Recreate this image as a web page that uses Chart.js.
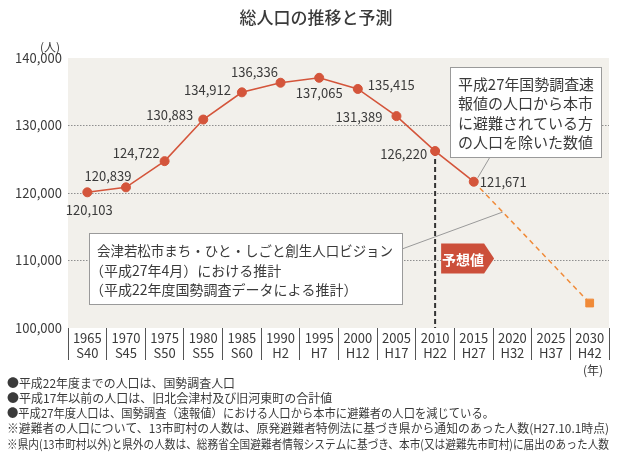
<!DOCTYPE html>
<html>
<head>
  <meta charset="utf-8">
  <title>総人口の推移と予測</title>
  <script src="https://cdn.jsdelivr.net/npm/chart.js"></script>
  <style>
    html, body { margin: 0; padding: 0; background: #fff; }
    #wrap { width: 619px; height: 459px; }
  </style>
</head>
<body>
  <div id="wrap">
    <canvas id="popChart" width="619" height="459"></canvas>
  </div>

  <script>
    // data
    const years = ["1965", "1970", "1975", "1980", "1985", "1990", "1995", "2000", "2005", "2010", "2015", "2020", "2025", "2030"];
    const eras = ["S40", "S45", "S50", "S55", "S60", "H2", "H7", "H12", "H17", "H22", "H27", "H32", "H37", "H42"];
    const actual = [120103, 120839, 124722, 130883, 134912, 136336, 137065, 135415, 131389, 126220, 121671, null, null, null];
    const forecast = [null, null, null, null, null, null, null, null, null, null, 121671, null, null, 103700];
    const yTicks = [100000, 110000, 120000, 130000, 140000];

    const title = "総人口の推移と予測";
    const note1 = ["平成27年国勢調査速", "報値の人口から本市", "に避難されている方", "の人口を除いた数値"];
    const note2 = ["会津若松市まち・ひと・しごと創生人口ビジョン", "（平成27年4月）における推計", "（平成22年度国勢調査データによる推計）"];
    const badgeText = "予想値";
    const footnotes = [
      "●平成22年度までの人口は、国勢調査人口",
      "●平成17年以前の人口は、旧北会津村及び旧河東町の合計値",
      "●平成27年度人口は、国勢調査（速報値）における人口から本市に避難者の人口を減じている。",
      "※避難者の人口について、13市町村の人数は、原発避難者特例法に基づき県から通知のあった人数(H27.10.1時点)",
      "※県内(13市町村以外)と県外の人数は、総務省全国避難者情報システムに基づき、本市(又は避難先市町村)に届出のあった人数"
    ];

    // where each value label sits relative to its point
    const labelPos = [
      [2, 18, "center"], [-18, -11, "center"], [-5, -8, "right"], [-10, -4, "right"],
      [-11, -2, "right"], [-26, -11, "center"], [0, 15, "center"], [10, -4, "left"],
      [-14, 1, "right"], [-8, 3, "right"], [6, 0, "left"]
    ];

    const FONT = "'Noto Sans CJK JP', 'Noto Sans', sans-serif";
    const TEXT = "#3a3a3a";
    const RED = "#d4553b";
    const ORANGE = "#f08a38";

    const fmt = v => v.toLocaleString("en-US");

    const bgPlugin = {
      id: "bg",
      beforeDraw(chart) {
        const { ctx, chartArea: a } = chart;
        ctx.save();
        ctx.fillStyle = "#f2f0eb";
        ctx.fillRect(a.left, a.top, a.right - a.left, a.bottom - a.top);
        ctx.restore();
      },
      beforeDatasetsDraw(chart) {
        // dashed marker under 2010
        const { ctx, chartArea: a, scales } = chart;
        const x = scales.x.getPixelForValue(9);
        const y = scales.y.getPixelForValue(actual[9]);
        ctx.save();
        ctx.strokeStyle = "#333";
        ctx.lineWidth = 2;
        ctx.setLineDash([5, 3]);
        ctx.beginPath();
        ctx.moveTo(x, y);
        ctx.lineTo(x, a.bottom);
        ctx.stroke();
        ctx.restore();
      }
    };

    function box(ctx, x, y, w, h) {
      ctx.fillStyle = "#fff";
      ctx.fillRect(x, y, w, h);
      ctx.strokeStyle = "#9a9a9a";
      ctx.lineWidth = 1;
      ctx.strokeRect(x + 0.5, y + 0.5, w, h);
    }

    const textPlugin = {
      id: "texts",
      afterDatasetsDraw(chart) {
        const { ctx, scales } = chart;
        const xs = scales.x, ys = scales.y;
        ctx.save();

        // value labels
        ctx.font = "13px " + FONT;
        ctx.fillStyle = TEXT;
        ctx.textBaseline = "middle";
        labelPos.forEach((p, i) => {
          const px = xs.getPixelForValue(i), py = ys.getPixelForValue(actual[i]);
          ctx.textAlign = p[2];
          ctx.fillText(fmt(actual[i]), px + p[0], py + p[1]);
        });

        // callout 1 -> 2015 point
        const p15x = xs.getPixelForValue(10), p15y = ys.getPixelForValue(actual[10]);
        ctx.strokeStyle = "#9a9a9a";
        ctx.lineWidth = 1;
        ctx.beginPath();
        ctx.moveTo(490, 157);
        ctx.lineTo(p15x + 4, p15y - 4);
        ctx.stroke();
        box(ctx, 450, 67, 151, 90);
        ctx.font = "15px " + FONT;
        ctx.fillStyle = TEXT;
        ctx.textAlign = "left";
        note1.forEach((t, i) => ctx.fillText(t, 458, 84 + i * 19.5, 136));

        // callout 2 -> forecast line
        const mx = xs.getPixelForValue(10) + (xs.getPixelForValue(11) - xs.getPixelForValue(10)) * 0.75;
        const my = ys.getPixelForValue(forecast[10]) + (ys.getPixelForValue(forecast[13]) - ys.getPixelForValue(forecast[10])) * 0.25;
        ctx.beginPath();
        ctx.moveTo(402, 249);
        ctx.lineTo(mx, my);
        ctx.stroke();
        box(ctx, 89, 233, 313, 71);
        ctx.font = "14px " + FONT;
        ctx.fillStyle = TEXT;
        ctx.fillText(note2[0], 97, 251, 296);
        ctx.fillText(note2[1], 90, 271);
        ctx.fillText(note2[2], 90, 290);

        // forecast badge
        const bx = xs.getPixelForValue(9) + 6, by = ys.getPixelForValue(110000) - 17;
        ctx.fillStyle = "#cc4f3a";
        ctx.beginPath();
        ctx.moveTo(bx, by);
        ctx.lineTo(bx + 43, by);
        ctx.lineTo(bx + 53, by + 15);
        ctx.lineTo(bx + 43, by + 30);
        ctx.lineTo(bx, by + 30);
        ctx.closePath();
        ctx.fill();
        ctx.fillStyle = "#fff";
        ctx.font = "bold 14px " + FONT;
        ctx.textAlign = "center";
        ctx.fillText(badgeText, bx + 22, by + 16);

        // titles and footnotes
        ctx.fillStyle = TEXT;
        ctx.font = "500 17px " + FONT;
        ctx.fillText(title, 316, 18);
        ctx.font = "12px " + FONT;
        ctx.fillText("(人)", 50, 47);
        ctx.fillText("(年)", 593, 370);
        ctx.textAlign = "left";
        const fw = [228, 334, 487, 602, 602];
        footnotes.forEach((t, i) => ctx.fillText(t, 7, 383 + i * 15.3, fw[i]));
        ctx.restore();
      }
    };

    new Chart(document.getElementById("popChart"), {
      type: "line",
      data: {
        labels: years.map((y, i) => [y, eras[i]]),
        datasets: [
          {
            label: "総人口",
            data: actual,
            borderColor: RED,
            backgroundColor: RED,
            borderWidth: 1.6,
            pointRadius: 4.5,
            pointBorderWidth: 1,
            tension: 0
          },
          {
            label: "推計",
            data: forecast,
            spanGaps: true,
            borderColor: ORANGE,
            backgroundColor: ORANGE,
            borderWidth: 1.5,
            borderDash: [5, 4],
            pointStyle: "rect",
            pointRadius: forecast.map((v, i) => i === 13 ? 5.5 : 0),
            pointBorderWidth: 1,
            tension: 0
          }
        ]
      },
      options: {
        responsive: false,
        animation: false,
        layout: { padding: { top: 58, right: 10, bottom: 99, left: 0 } },
        plugins: { legend: { display: false }, tooltip: { enabled: false }, title: { display: false } },
        scales: {
          x: {
            offset: true,
            afterFit(s) { s.height = 32; },
            border: { display: false },
            grid: { offset: true, drawOnChartArea: false, drawTicks: true, tickLength: 32, color: "#555", lineWidth: 1 },
            ticks: { padding: -30, color: TEXT, font: { family: FONT, size: 13, lineHeight: 1.2 }, maxRotation: 0, autoSkip: false }
          },
          y: {
            min: 100000,
            max: 140000,
            afterFit(s) { s.width = 68; },
            afterBuildTicks(s) { s.ticks = yTicks.map(v => ({ value: v })); },
            border: { display: false, dash: [1.5, 1.5] },
            grid: {
              drawTicks: false,
              color: c => (c.tick.value === 100000 || c.tick.value === 140000) ? "rgba(0,0,0,0)" : "#8f8f8f",
              lineWidth: 1
            },
            ticks: { padding: 6, color: TEXT, font: { family: FONT, size: 13 }, callback: v => fmt(v) }
          }
        }
      },
      plugins: [bgPlugin, textPlugin]
    });
  </script>
</body>
</html>
